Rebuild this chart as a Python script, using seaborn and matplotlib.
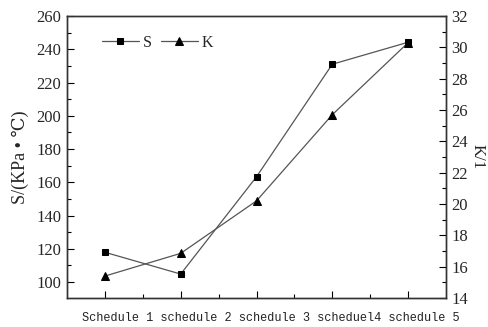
import matplotlib
matplotlib.use("Agg")
import matplotlib.pyplot as plt
import seaborn as sns
import pandas as pd
from matplotlib.ticker import MultipleLocator, FixedLocator, NullFormatter

categories = ["Schedule 1", "schedule 2", "schedule 3", "scheduel4", "schedule 5"]
s_values = [117.9, 104.8, 163.3, 231.0, 244.2]
k_values = [15.4, 16.85, 20.2, 25.7, 30.3]

sns.set_theme(style="white")
plt.rcParams['font.family'] = ['Liberation Serif', 'DejaVu Serif', 'DejaVu Sans']

df = pd.DataFrame({"pos": range(len(categories)), "S": s_values, "K": k_values})

fig = plt.figure(figsize=(4.88, 3.27), dpi=100)
ax = fig.add_axes([67/488, 1 - 298/327, (446-67)/488, (298-16)/327])
ax2 = ax.twinx()

line_col = "#555555"
sns.lineplot(data=df, x="pos", y="S", ax=ax, color=line_col, lw=0.9,
             marker="s", markersize=5, markerfacecolor="black",
             markeredgecolor="black", label="S", legend=False)
sns.lineplot(data=df, x="pos", y="K", ax=ax2, color=line_col, lw=0.9,
             marker="^", markersize=6, markerfacecolor="black",
             markeredgecolor="black", label="K", legend=False)

ax.set_xlim(-0.5, 4.5)
ax.set_ylim(90.4, 260)
ax2.set_ylim(14, 32)

ax.xaxis.set_major_locator(FixedLocator(list(range(len(categories)))))
ax.xaxis.set_major_formatter(NullFormatter())
ax.xaxis.set_minor_locator(FixedLocator([0.5, 1.5, 2.5, 3.5]))
ax.xaxis.set_minor_formatter(NullFormatter())
ax.yaxis.set_major_locator(MultipleLocator(20))
ax.yaxis.set_minor_locator(MultipleLocator(10))
ax.yaxis.set_minor_formatter(NullFormatter())
ax2.yaxis.set_major_locator(MultipleLocator(2))
ax2.yaxis.set_minor_locator(MultipleLocator(1))
ax2.yaxis.set_minor_formatter(NullFormatter())

for a in (ax, ax2):
    a.tick_params(which="major", direction="in", length=5, width=0.8, color="black",
                  labelsize=12, pad=4)
    a.tick_params(which="minor", direction="in", length=3, width=0.8, color="black")
    for sp in a.spines.values():
        sp.set_color("#333333")
        sp.set_linewidth(1.0)
ax.tick_params(axis="y", which="both", left=True, right=False)
ax.tick_params(axis="x", which="both", bottom=True, top=False)
ax2.tick_params(axis="y", which="both", right=True, left=False)

# category labels: drawn as one monospace line, as in the reference
ax.text((271 - 67) / 379, -0.082, " ".join(categories), transform=ax.transAxes,
        ha="center", va="baseline", family="Liberation Mono", fontsize=8.56,
        color="#222222")

ax.set_xlabel("")
ax.set_ylabel("S/(KPa • ℃)", fontsize=13, labelpad=5)
ax2.set_ylabel("K/1", fontsize=12, rotation=270, va="center")
ax2.yaxis.set_label_coords((478 - 67) / 379, 0.5)

h1, l1 = ax.get_legend_handles_labels()
h2, l2 = ax2.get_legend_handles_labels()
ax.legend(h1 + h2, l1 + l2, loc="upper left", ncol=2, frameon=False,
          fontsize=11.5, bbox_to_anchor=(0.075, 0.955), handlelength=2.3,
          columnspacing=0.6, handletextpad=0.25, borderaxespad=0)

fig.savefig("out.png", dpi=100)
